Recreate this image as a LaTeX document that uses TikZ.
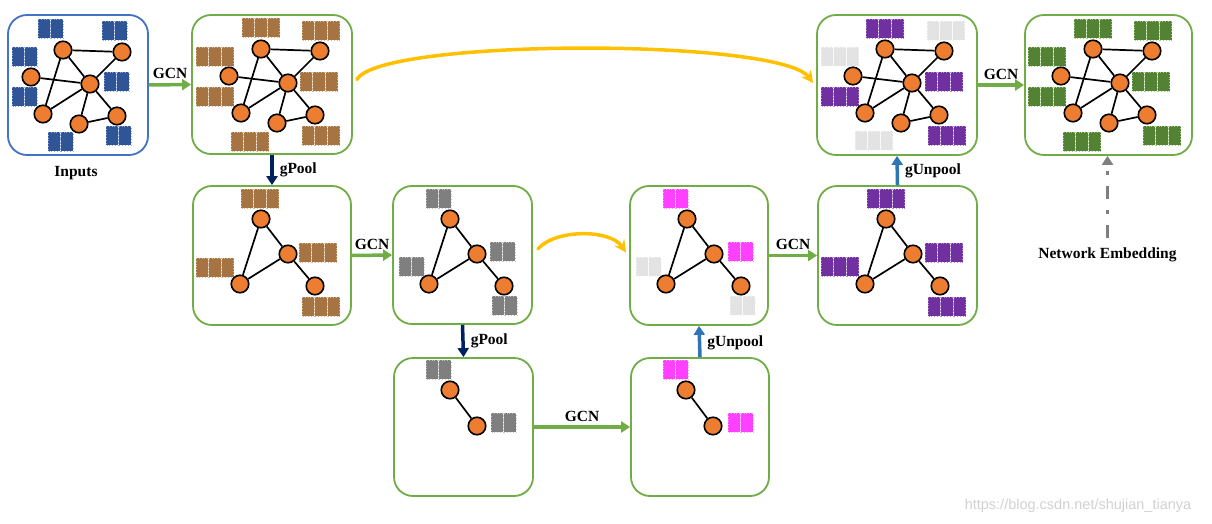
\documentclass[tikz,border=0pt]{standalone}
\usepackage{fontspec}
\setmainfont{Liberation Serif}
\newfontfamily\wmfont{Liberation Sans}
\usetikzlibrary{arrows.meta}
\definecolor{boxgreen}{HTML}{70AD47}
\definecolor{boxblue}{HTML}{4472C4}
\definecolor{nodeorange}{HTML}{ED7D31}
\definecolor{arrgreen}{HTML}{70AD47}
\definecolor{navy}{HTML}{002060}
\definecolor{unblue}{HTML}{2E75B6}
\definecolor{gold}{HTML}{FFC000}
\definecolor{embgrey}{HTML}{7F7F7F}
\definecolor{blueF}{HTML}{2F5597}\definecolor{blueB}{HTML}{8FAADC}
\definecolor{brownF}{HTML}{A67443}\definecolor{brownB}{HTML}{D9B993}
\definecolor{greyF}{HTML}{7F7F7F}\definecolor{greyB}{HTML}{C4C4C4}
\definecolor{lgreyF}{HTML}{E3E3E3}\definecolor{lgreyB}{HTML}{F7F7F7}
\definecolor{magF}{HTML}{FF40FF}\definecolor{magB}{HTML}{FFA0FF}
\definecolor{purF}{HTML}{7030A0}\definecolor{purB}{HTML}{B590D8}
\definecolor{grnF}{HTML}{548235}\definecolor{grnB}{HTML}{A9D18E}
\tikzset{
  box/.style={draw=boxgreen, line width=1.8pt, rounded corners=19pt, inner sep=0pt},
  gn/.style={circle, draw=black, fill=nodeorange, line width=1.6pt, minimum size=17.5pt, inner sep=0pt},
  ge/.style={black, line width=1.7pt},
  gcnarrow/.style={draw=arrgreen, line width=3.5pt, -{Triangle[length=9pt,width=11pt]}},
  poolarrow/.style={draw=navy, line width=3.5pt, -{Triangle[length=9pt,width=11pt]}},
  unpoolarrow/.style={draw=unblue, line width=3.5pt, -{Triangle[length=9pt,width=11pt]}},
  skiparrow/.style={draw=gold, line width=3.5pt, line cap=round, -{Stealth[length=12pt,width=12pt,inset=4pt]}},
  embarrow/.style={draw=embgrey, line width=3.5pt, dash pattern=on 13pt off 11pt on 4pt off 11pt, -{Triangle[length=9pt,width=11pt]}},
  lbl/.style={font=\bfseries\fontsize{15.5}{18}\selectfont, inner sep=1pt},
}
% feature block: x, y (top-left), number of cells, fill, border
\newcommand\featblk[5]{%
  \foreach \i [evaluate=\i as \xx using #1+(\i-1)*12.8] in {1,...,#3}
    \filldraw[fill=#4, draw=#5, line width=0.8pt, dotted] (\xx,#2) rectangle ++(12.2,19);
}
% full graph: prefix, x, y of node a
\newcommand\fullgraph[3]{%
  \node[gn] (#1a) at (#2,#3) {};
  \node[gn] (#1b) at (#2+59,#3+2) {};
  \node[gn] (#1c) at (#2-32,#3+27) {};
  \node[gn] (#1d) at (#2+27,#3+34) {};
  \node[gn] (#1e) at (#2-20,#3+64) {};
  \node[gn] (#1f) at (#2+16,#3+74) {};
  \node[gn] (#1g) at (#2+54,#3+66) {};
  \draw[ge] (#1a) -- (#1b); \draw[ge] (#1a) -- (#1d); \draw[ge] (#1a) -- (#1e);
  \draw[ge] (#1b) -- (#1d); \draw[ge] (#1c) -- (#1d); \draw[ge] (#1d) -- (#1e);
  \draw[ge] (#1d) -- (#1f); \draw[ge] (#1d) -- (#1g); \draw[ge] (#1f) -- (#1g);
}
\newcommand\poolgraph[3]{%
  \node[gn] (#1a) at (#2,#3) {};
  \node[gn] (#1d) at (#2+27,#3+35) {};
  \node[gn] (#1e) at (#2-21,#3+65) {};
  \node[gn] (#1g) at (#2+54,#3+67) {};
  \draw[ge] (#1a) -- (#1d); \draw[ge] (#1a) -- (#1e);
  \draw[ge] (#1d) -- (#1e); \draw[ge] (#1d) -- (#1g);
}
\newcommand\smallgraph[3]{%
  \node[gn] (#1a) at (#2,#3) {};
  \node[gn] (#1d) at (#2+27,#3+36) {};
  \draw[ge] (#1a) -- (#1d);
}
\begin{document}
\begin{tikzpicture}[x=1pt,y=-1pt]
\useasboundingbox (0,0) rectangle (1212,524);
% boxes
\node[box, draw=boxblue, minimum width=140pt, minimum height=140pt] (b1) at (78,85) {};
\node[box, minimum width=160pt, minimum height=139pt] (b2) at (272,84.5) {};
\node[box, minimum width=160pt, minimum height=140pt] (b3) at (897,85) {};
\node[box, minimum width=167pt, minimum height=140pt] (b4) at (1108.5,85) {};
\node[box, minimum width=158pt, minimum height=139pt] (b5) at (272,255.5) {};
\node[box, minimum width=139pt, minimum height=138pt] (b6) at (462.5,255) {};
\node[box, minimum width=138pt, minimum height=139pt] (b7) at (699,255.5) {};
\node[box, minimum width=159pt, minimum height=139pt] (b8) at (897.5,255.5) {};
\node[box, minimum width=139pt, minimum height=138pt] (b9) at (463.5,427) {};
\node[box, minimum width=138pt, minimum height=138pt] (b10) at (700,427) {};

% feature blocks
% box 1
\featblk{38}{19}{2}{blueF}{blueB}
\featblk{102}{21}{2}{blueF}{blueB}
\featblk{12}{47}{2}{blueF}{blueB}
\featblk{104}{72}{2}{blueF}{blueB}
\featblk{12}{87}{2}{blueF}{blueB}
\featblk{48}{132}{2}{blueF}{blueB}
\featblk{106}{126}{2}{blueF}{blueB}
% box 2
\featblk{242}{18}{3}{brownF}{brownB}
\featblk{302}{21}{3}{brownF}{brownB}
\featblk{196}{47}{3}{brownF}{brownB}
\featblk{300}{72}{3}{brownF}{brownB}
\featblk{196}{87}{3}{brownF}{brownB}
\featblk{231}{132}{3}{brownF}{brownB}
\featblk{302}{126}{3}{brownF}{brownB}
% box 3
\featblk{866}{19}{3}{purF}{purB}
\featblk{927}{21}{3}{lgreyF}{lgreyB}
\featblk{821}{47}{3}{lgreyF}{lgreyB}
\featblk{925}{72}{3}{purF}{purB}
\featblk{821}{87}{3}{purF}{purB}
\featblk{855}{131}{3}{lgreyF}{lgreyB}
\featblk{928}{126}{3}{purF}{purB}
% box 4
\featblk{1074}{19}{3}{grnF}{grnB}
\featblk{1134}{21}{3}{grnF}{grnB}
\featblk{1028}{47}{3}{grnF}{grnB}
\featblk{1132}{72}{3}{grnF}{grnB}
\featblk{1028}{87}{3}{grnF}{grnB}
\featblk{1063}{132}{3}{grnF}{grnB}
\featblk{1143}{126}{3}{grnF}{grnB}
% box 5
\featblk{241}{189}{3}{brownF}{brownB}
\featblk{299}{243}{3}{brownF}{brownB}
\featblk{196}{258}{3}{brownF}{brownB}
\featblk{302}{297}{3}{brownF}{brownB}
% box 6
\featblk{426}{189}{2}{greyF}{greyB}
\featblk{490}{242}{2}{greyF}{greyB}
\featblk{399}{257}{2}{greyF}{greyB}
\featblk{492}{296}{2}{greyF}{greyB}
% box 7
\featblk{663}{189}{2}{magF}{magB}
\featblk{728}{242}{2}{magF}{magB}
\featblk{636}{257}{2}{lgreyF}{lgreyB}
\featblk{730}{296}{2}{lgreyF}{lgreyB}
% box 8
\featblk{867}{189}{3}{purF}{purB}
\featblk{925}{243}{3}{purF}{purB}
\featblk{821}{257}{3}{purF}{purB}
\featblk{928}{297}{3}{purF}{purB}
% box 9
\featblk{426}{360}{2}{greyF}{greyB}
\featblk{491}{413}{2}{greyF}{greyB}
% box 10
\featblk{663}{360}{2}{magF}{magB}
\featblk{728}{413}{2}{magF}{magB}

% graphs
\fullgraph{ga}{63}{50}
\fullgraph{gb}{261}{49}
\fullgraph{gc}{885}{49}
\fullgraph{gd}{1093}{49}
\poolgraph{ge}{261}{219}
\poolgraph{gf}{450}{219}
\poolgraph{gg}{687}{219}
\poolgraph{gh}{886}{219}
\smallgraph{gi}{450}{390}
\smallgraph{gj}{686}{390}

% labels
\node[lbl] (inputs) at (76,173) {Inputs};
\node[lbl] (ne) at (1107.5,255) {Network Embedding};

% GCN arrows
\draw[gcnarrow] (b1.east) -- node[lbl, above=3pt] {GCN} (b2.west);
\draw[gcnarrow] (b5.east) -- node[lbl, above=3pt] {GCN} (b6.west);
\draw[gcnarrow] (b9.east) -- node[lbl, above=3pt] {GCN} (b10.west);
\draw[gcnarrow] (b7.east) -- node[lbl, above=3pt] {GCN} (b8.west);
\draw[gcnarrow] (b3.east) -- node[lbl, above=3pt] {GCN} (b4.west);

% pool / unpool
\draw[poolarrow] (b2.south) -- node[lbl, right=5pt, pos=0.5] {gPool} (b5.north);
\draw[poolarrow] (b6.south) -- node[lbl, right=5pt, pos=0.5] {gPool} (b9.north);
\draw[unpoolarrow] (b10.north) -- node[lbl, right=5pt, pos=0.45] {gUnpool} (b7.south);
\draw[unpoolarrow] (b8.north) -- node[lbl, right=5pt, pos=0.5] {gUnpool} (b3.south);

% skip connections
\draw[skiparrow] ([xshift=4pt,yshift=5pt]b2.east) .. controls (380,38) and (780,38) .. ([xshift=-3pt,yshift=2pt]b3.west);
\draw[skiparrow] ([xshift=5pt,yshift=6pt]b6.east) .. controls (555,229) and (610,229) .. ([xshift=-3pt,yshift=3pt]b7.west);

% network embedding
\draw[embarrow] ([yshift=9pt]ne.north) -- (ne.north |- b4.south);

% watermark
\node[font=\wmfont\fontsize{14.5}{16}\selectfont, text=black!18, inner sep=0pt] (wm) at (1078,506) {https://blog.csdn.net/shujian\_tianya};
\end{tikzpicture}
\end{document}
